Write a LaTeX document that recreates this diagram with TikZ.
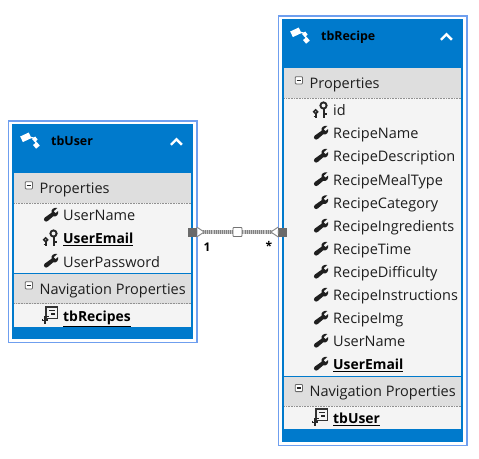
\documentclass[tikz,border=0pt]{standalone}
\usepackage{fontspec}
\setmainfont{Open Sans}
\definecolor{hblue}{HTML}{007ACC}
\definecolor{oblue}{HTML}{6F9FEF}
\definecolor{hgray}{HTML}{DEDEDE}
\definecolor{rgray}{HTML}{F4F4F4}
\definecolor{ink}{HTML}{1E1E1E}
\definecolor{dots}{HTML}{909090}
\definecolor{hand}{HTML}{6A6A6A}
\tikzset{
  x=1pt,y=-1pt,
  lbl/.style={anchor=base west,yshift=-5.5pt,inner sep=0pt,font=\fontsize{14.5}{16}\selectfont,text=ink},
  blbl/.style={lbl,font=\fontsize{13.9}{16}\selectfont\bfseries,text=black},
  ttl/.style={anchor=base west,yshift=-4.5pt,inner sep=0pt,font=\fontsize{12.4}{14}\selectfont\bfseries,text=black},
  handle/.style={draw=hand,fill=hand,minimum size=8pt,inner sep=0pt},
  midh/.style={draw=black!55,fill=white,line width=0.9pt,minimum size=9pt,inner sep=0pt,rounded corners=0.7pt},
  card/.style={inner sep=0pt,font=\fontsize{12}{13}\selectfont\bfseries,text=black},
  band/.style={black!22,line width=4.5pt},
  hatch/.style={black!50,line width=3.5pt,dash pattern=on 1pt off 1.1pt},
  tip/.style={black!45,line width=1pt},
  pics/wrench/.style={code={
    \fill[black!88] (6.8,-7) .. controls (3.5,-8) and (0,-5.5) .. (1,-2.2)
      -- (-5.8,2.6) .. controls (-8,4.6) and (-5,8) .. (-2.8,6) -- (2.6,1.4)
      .. controls (6,2.4) and (8.5,-1) .. (7.6,-4) -- (5,-1.8) -- (3.2,-3.8) -- cycle;
  }},
  pics/keyicon/.style={code={
    \draw[black!85,line width=1.9pt] (3,-4.5) circle[radius=3.1];
    \draw[black!85,line width=2pt] (3,-1.4) -- (3,8);
    \draw[black!85,line width=1.5pt] (3,4) -- (6,4);
    \draw[black!85,line width=1.6pt] (-4.8,1.8) circle[radius=1.9];
    \draw[black!85,line width=1.7pt] (-4.8,3.7) -- (-4.8,8);
    \draw[black!85,line width=1.1pt] (-7,6.5) -- (-4.8,6.5);
  }},
  pics/navicon/.style={code={
    \draw[black!80,line width=1.1pt,fill=rgray] (-4.5,-9) rectangle (7,2.6);
    \draw[black!85,line width=1.1pt] (-1.2,-5.6) -- (4.2,-5.6) (0.5,-2) -- (4.2,-2);
    \draw[black!85,line width=1.1pt] (-1.8,0.2) -- (-5.8,0.2);
    \draw[black!85,line width=1.7pt] (-5.8,0.2) -- (-5.8,7.5);
    \draw[black!85,line width=1.3pt] (-8,3.4) -- (-8,4.8) -- (-3.6,4.8) -- (-3.6,3.4);
  }},
  pics/enticon/.style={code={
    \draw[white,line width=1.3pt] (-3,-2.5) -- (5,-0.5) -- (7,5);
    \fill[white,rotate around={25:(-3.6,-1.5)}] (-8.3,-4.6) rectangle (1.1,1.6);
    \fill[white,rotate around={40:(5.5,0.5)}] (3.5,-1.5) rectangle (7.5,2.5);
    \fill[white,rotate around={40:(7,6.5)}] (4.6,4.1) rectangle (9.4,8.9);
  }},
  pics/chev/.style={code={
    \draw[white,line width=2.4pt,line join=miter] (-5.5,3) -- (0,-2.5) -- (5.5,3);
  }},
  pics/minus/.style={code={
    \draw[black!60,fill=white,rounded corners=0.8pt,line width=0.8pt] (-3.6,-3.6) rectangle (3.6,3.6);
    \draw[black!85,line width=1.1pt] (-2.2,0) -- (2.2,0);
  }},
}
\newcommand{\entbox}[9]{% x1 ytop yhead yprop ysep ynav yrows yinner ybottom
  \fill[white] (#1,#2) rectangle ({#1+188.4},#9);
  \draw[oblue,line width=1.5pt] (#1,#2) rectangle ({#1+188.4},#9);
  \fill[hblue] ({#1+4},{#2+3.3}) rectangle ({#1+184.4},#8);
  \fill[hgray] ({#1+6},#3) rectangle ({#1+182.6},#4);
  \fill[rgray] ({#1+6},#4) rectangle ({#1+182.6},#5);
  \fill[hgray] ({#1+6},#5) rectangle ({#1+182.6},#6);
  \fill[rgray] ({#1+6},#6) rectangle ({#1+182.6},#7);
  \draw[hblue,line width=0.8pt] ({#1+6},#5) -- ({#1+182.6},#5);
  \draw[dots,line width=0.6pt,densely dotted] ({#1+6},#4) -- ({#1+182.6},#4);
  \draw[dots,line width=0.6pt,densely dotted] ({#1+6},#6) -- ({#1+182.6},#6);
  \pic at ({#1+21},{#2+18}) {enticon};
  \pic at ({#1+168},{#2+21}) {chev};
  \pic at ({#1+20.5},{#3+12}) {minus};
  \pic at ({#1+20.5},{#5+12}) {minus};
}
\begin{document}
\begin{tikzpicture}
\useasboundingbox (0,0) rectangle (479,458);
\fill[white] (0,0) rectangle (479,458);
% left entity
\entbox{8.4}{120.8}{173.3}{203}{273.3}{303.7}{327}{339}{342.4}
\node[ttl] (ut) at (51,141) {tbUser};
\node[lbl] (up) at (39.5,187.5) {Properties};
\pic at (50.5,215) {wrench};
\node[lbl] (u1) at (63,214.5) {UserName};
\pic at (50.5,238) {keyicon};
\node[blbl] (u2) at (63,238) {\underline{UserEmail}};
\pic at (50.5,261) {wrench};
\node[lbl] (u3) at (63,261.5) {UserPassword};
\node[lbl] (un) at (39.5,288.5) {Navigation Properties};
\pic at (50.5,316) {navicon};
\node[blbl] (u4) at (63,315.5) {\underline{tbRecipes}};
% right entity
\entbox{278.4}{15.8}{68.3}{98.3}{376}{406}{429.3}{441.7}{445.7}
\node[ttl] (rt) at (321,36) {tbRecipe};
\node[lbl] (rp) at (309.5,82.5) {Properties};
\pic at (320.5,110) {keyicon};
\node[lbl] (r0) at (333,110) {id};
\foreach \n/\y/\t in {r1/133/RecipeName,r2/156/RecipeDescription,r3/179.5/RecipeMealType,r4/202.5/RecipeCategory,r5/226/RecipeIngredients,r6/249/RecipeTime,r7/272/RecipeDifficulty,r8/295/RecipeInstructions,r9/318/RecipeImg,r10/341/UserName}{
  \pic at (320.5,\y) {wrench};
  \node[lbl] (\n) at (333,\y) {\t};
}
\pic at (320.5,364) {wrench};
\node[blbl] (r11) at (333,364) {\underline{UserEmail}};
\node[lbl] (rn) at (309.5,390.5) {Navigation Properties};
\pic at (320.5,418) {navicon};
\node[blbl] (r12) at (333,418) {\underline{tbUser}};
% connector
\node[handle] (hl) at (192.5,232) {};
\node[handle] (hr) at (282.5,232) {};
\node[midh] (hm) at (237.5,232) {};
\draw[band] (hl) -- (hm);
\draw[band] (hm) -- (hr);
\draw[hatch] (hl) -- (hm);
\draw[hatch] (hm) -- (hr);
\fill[white] (hl.east) ++(0.6,-5) -- ++(7,5) -- ++(-7,5) -- cycle;
\fill[white] (hr.west) ++(-0.6,-5) -- ++(-7,5) -- ++(7,5) -- cycle;
\draw[tip] (hl.east) ++(0,-5) -- ++(7.5,5) -- ++(-7.5,5);
\draw[tip] (hr.west) ++(0,-5) -- ++(-7.5,5) -- ++(7.5,5);
\node[card] (c1) at (207,247) {1};
\node[card] (c2) at (269,246) {*};
\end{tikzpicture}
\end{document}
